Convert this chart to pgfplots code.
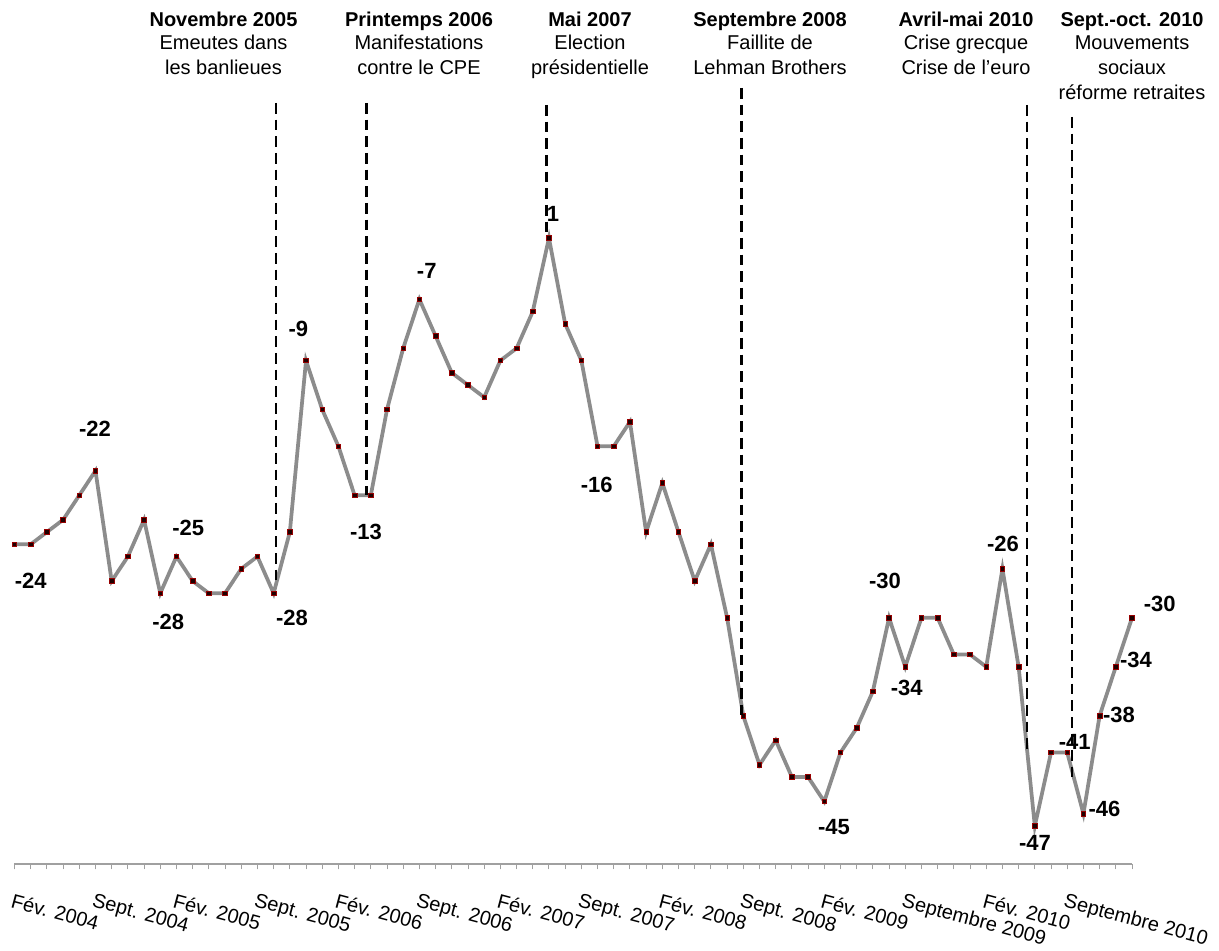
\documentclass[border=0pt]{standalone}
\usepackage{fontspec}
\setmainfont{Liberation Sans}
\usepackage{pgfplots}
\pgfplotsset{compat=1.18}
\definecolor{linegray}{RGB}{140,140,140}
\definecolor{axgray}{RGB}{160,160,160}
\definecolor{mkfill}{RGB}{30,0,0}
\definecolor{mkdraw}{RGB}{150,0,0}
\begin{document}
\begin{tikzpicture}
\useasboundingbox (0,0) rectangle (914.25pt,712.5pt);
\begin{axis}[
  at={(10.875pt,64.5pt)}, anchor=south west,
  scale only axis, width=838.125pt, height=573pt,
  xmin=1, xmax=70, ymin=-50.098, ymax=12.27,
  axis x line=bottom, axis y line=none,
  axis line style={draw=axgray, line width=1pt, -},
  xtick={1,6,...,66},
  minor xtick={1,...,70},
  xticklabels={Fév. 2004,Sept. 2004,Fév. 2005,Sept. 2005,Fév. 2006,Sept. 2006,Fév. 2007,Sept. 2007,Fév. 2008,Sept. 2008,Fév. 2009,Septembre 2009,Fév. 2010,Septembre 2010},
  tick align=outside, major tick length=4pt, minor tick length=4pt,
  tick style={draw=axgray, line width=0.7pt},
  minor tick style={draw=axgray, line width=0.7pt},
  xticklabel style={rotate=-15, anchor=north west, inner sep=0pt, yshift=-17pt, xshift=4pt, font=\fontsize{15pt}{17pt}\selectfont},
  clip=false,
]
\addplot[color=linegray, line width=2.8pt, mark=square*, mark size=1.7pt,
  mark options={fill=mkfill, draw=mkdraw, line width=0.5pt}] table {
x y
1 -24
2 -24
3 -23
4 -22
5 -20
6 -18
7 -27
8 -25
9 -22
10 -28
11 -25
12 -27
13 -28
14 -28
15 -26
16 -25
17 -28
18 -23
19 -9
20 -13
21 -16
22 -20
23 -20
24 -13
25 -8
26 -4
27 -7
28 -10
29 -11
30 -12
31 -9
32 -8
33 -5
34 1
35 -6
36 -9
37 -16
38 -16
39 -14
40 -23
41 -19
42 -23
43 -27
44 -24
45 -30
46 -38
47 -42
48 -40
49 -43
50 -43
51 -45
52 -41
53 -39
54 -36
55 -30
56 -34
57 -30
58 -30
59 -33
60 -33
61 -34
62 -26
63 -34
64 -47
65 -41
66 -41
67 -46
68 -38
69 -34
70 -30
};
\end{axis}
\begin{scope}[x=0.75pt, y=-0.75pt, shift={(0pt,712.5pt)}]
  % dashed event lines
  \begin{scope}[black, line width=1.8pt, dash pattern=on 8pt off 4.5pt]
    \draw (276,103) -- (276,583);
    \draw (366.5,103) -- (366.5,495);
    \draw (546.5,105) -- (546.5,238);
    \draw (741.5,88) -- (741.5,716);
    \draw (1027,105) -- (1027,750);
    \draw (1072,117) -- (1072,777);
  \end{scope}
  % event annotations
  \begin{scope}[every node/.style={anchor=base, inner sep=0pt, font=\fontsize{15pt}{18pt}\selectfont}]
    \node[font=\fontsize{15pt}{18pt}\selectfont\bfseries] at (223.5,27) {Novembre 2005};
    \node at (223.5,50) {Emeutes dans};
    \node at (223.5,75) {les banlieues};
    \node[font=\fontsize{15pt}{18pt}\selectfont\bfseries] at (419,27) {Printemps 2006};
    \node at (419,50) {Manifestations};
    \node at (419,75) {contre le CPE};
    \node[font=\fontsize{15pt}{18pt}\selectfont\bfseries] at (590,27) {Mai 2007};
    \node at (590,50) {Election};
    \node at (590,75) {présidentielle};
    \node[font=\fontsize{15pt}{18pt}\selectfont\bfseries] at (770,27) {Septembre 2008};
    \node at (770,50) {Faillite de};
    \node at (770,75) {Lehman Brothers};
    \node[font=\fontsize{15pt}{18pt}\selectfont\bfseries] at (966,27) {Avril-mai 2010};
    \node at (966,50) {Crise grecque};
    \node at (966,75) {Crise de l’euro};
    \node[font=\fontsize{15pt}{18pt}\selectfont\bfseries] at (1132,27) {Sept.-oct. 2010};
    \node at (1132,50) {Mouvements};
    \node at (1132,75) {sociaux};
    \node at (1132,100) {réforme retraites};
  \end{scope}
  % data labels
  \begin{scope}[every node/.style={anchor=center, inner sep=0pt, font=\fontsize{16.5pt}{19pt}\selectfont\bfseries}]
    \node at (30.7,581) {-24};
    \node at (95,429) {-22};
    \node at (188.3,527.5) {-25};
    \node at (168.3,621.7) {-28};
    \node at (292,618) {-28};
    \node at (298.3,329.2) {-9};
    \node at (366,532) {-13};
    \node at (426.7,271.3) {-7};
    \node at (553,214) {1};
    \node at (596.7,485) {-16};
    \node at (834,826.7) {-45};
    \node at (885,580.8) {-30};
    \node at (906.7,688) {-34};
    \node at (1003,544) {-26};
    \node at (1035,843) {-47};
    \node at (1074.7,742) {-41};
    \node at (1104.5,809) {-46};
    \node at (1119,715) {-38};
    \node at (1136,660) {-34};
    \node at (1159.7,604) {-30};
  \end{scope}
\end{scope}
\end{tikzpicture}
\end{document}
